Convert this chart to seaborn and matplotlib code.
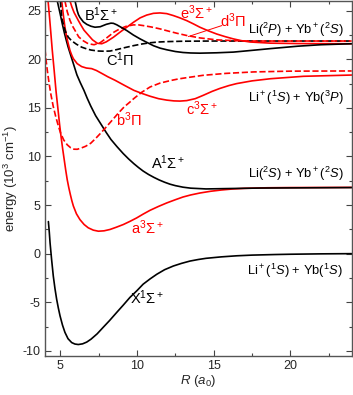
import matplotlib
matplotlib.use('Agg')
import matplotlib.pyplot as plt
import seaborn as sns
import numpy as np
import pandas as pd

# Potential energy curves of (LiYb)+
# R in bohr, energy in 10^3 cm^-1

x_X = [4.22, 4.28, 4.33, 4.43, 4.54, 4.65, 4.76, 4.87, 4.98, 5.14, 5.3, 5.5, 5.74,
       5.95, 6.17, 6.45, 6.72, 7.0, 7.4, 7.8, 8.2, 8.68, 9.1, 9.54, 10.0, 10.4, 10.85,
       11.29, 11.8, 12.37, 12.9, 13.46, 14.0, 14.5, 15.5, 16.5, 17.5, 19.0, 20.0, 22.0, 24.0]
e_X = [3.3, 2.2, 1.1, -0.6, -2.3, -3.6, -4.7, -5.6, -6.4, -7.35, -8.1, -8.75, -9.15,
       -9.3, -9.35, -9.28, -9.1, -8.8, -8.25, -7.57, -6.9, -6.04, -5.3, -4.5, -3.8, -3.14, -2.6,
       -2.12, -1.65, -1.27, -1.0, -0.76, -0.6, -0.48, -0.33, -0.22, -0.15, -0.09, -0.06, -0.02, 0.0]

x_a = [4.2, 4.28, 4.35, 4.47, 4.6, 4.72, 4.85, 4.95, 5.05, 5.15, 5.25, 5.35, 5.45, 5.55,
       5.65, 5.75, 5.85, 6.05, 6.28, 6.55, 6.82, 7.15, 7.48, 7.85, 8.24, 8.65, 9.11, 9.55,
       9.98, 10.4, 10.85, 11.4, 11.94, 12.5, 13.0, 13.5, 14.1, 14.8, 15.5, 16.2, 17.0, 18.5,
       20.0, 24.0]
e_a = [26.0, 24.6, 23.3, 21.0, 18.8, 16.7, 14.8, 13.3, 12.0, 10.8, 9.7, 8.6, 7.6, 6.8,
       6.1, 5.45, 4.9, 4.1, 3.5, 3.0, 2.66, 2.42, 2.31, 2.35, 2.49, 2.72, 3.0, 3.33,
       3.68, 4.07, 4.46, 4.86, 5.22, 5.55, 5.83, 6.04, 6.24, 6.42, 6.55, 6.65, 6.72, 6.78,
       6.8, 6.82]

x_A = [4.8, 4.9, 5.0, 5.12, 5.25, 5.38, 5.5, 5.62, 5.75, 5.9, 6.08, 6.3, 6.54, 6.75,
       6.98, 7.3, 7.7, 8.0, 8.3, 8.7, 9.1, 9.45, 9.8, 10.1, 10.4, 10.75, 11.1, 11.45, 11.8,
       12.15, 12.5, 13.0, 13.5, 14.5, 16.0, 18.0, 24.0]
e_A = [26.0, 25.3, 24.6, 23.7, 22.8, 22.0, 21.3, 20.7, 20.05, 19.3, 18.4, 17.6, 16.8, 16.0,
       15.2, 14.2, 13.2, 12.45, 11.75, 11.0, 10.3, 9.75, 9.25, 8.86, 8.5, 8.15, 7.85, 7.58, 7.35,
       7.15, 7.0, 6.84, 6.74, 6.66, 6.7, 6.75, 6.8]

x_b = [4.0, 4.07, 4.15, 4.26, 4.37, 4.53, 4.7, 4.86, 5.02, 5.22, 5.45, 5.67, 5.89, 6.1,
       6.33, 6.65, 6.98, 7.3, 7.63, 7.96, 8.29, 8.72, 9.16, 9.5, 9.8, 10.3, 10.85, 11.5,
       12.15, 12.7, 13.2, 14.3, 15.8, 17.6, 20.0, 24.0]
e_b = [21.0, 19.9, 18.86, 17.6, 16.5, 15.2, 14.1, 13.2, 12.4, 11.7, 11.2, 10.9, 10.75, 10.74,
       10.85, 11.05, 11.36, 11.85, 12.4, 12.98, 13.57, 14.35, 15.1, 15.55, 15.97, 16.6, 17.15, 17.55,
       17.8, 17.98, 18.1, 18.35, 18.55, 18.7, 18.78, 18.8]

x_c = [5.09, 5.2, 5.3, 5.4, 5.5, 5.63, 5.75, 5.85, 6.1, 6.39, 6.7, 7.04, 7.35, 7.7, 8.1,
       8.57, 9.2, 9.8, 10.3, 10.85, 11.4, 11.94, 12.4, 12.8, 13.24, 13.8, 14.33, 14.9, 15.4,
       16.0, 16.5, 17.5, 18.7, 20.85, 24.0]
e_c = [26.0, 24.5, 23.3, 22.4, 21.7, 20.9, 20.4, 20.06, 19.55, 19.25, 19.1, 19.04, 18.85, 18.55, 18.2,
       17.84, 17.3, 16.8, 16.5, 16.2, 15.95, 15.8, 15.72, 15.7, 15.75, 15.95, 16.3, 16.7, 17.0,
       17.3, 17.5, 17.78, 18.0, 18.25, 18.38]

x_C = [5.0, 5.05, 5.09, 5.2, 5.3, 5.41, 5.52, 5.74, 6.05, 6.39, 6.7, 7.0, 7.48, 7.85, 8.24,
       8.68, 9.2, 9.76, 10.3, 10.85, 11.4, 12.0, 13.0, 15.0, 24.0]
e_C = [26.0, 25.1, 24.3, 23.6, 23.0, 22.6, 22.27, 21.9, 21.55, 21.25, 21.08, 20.95, 20.85, 20.83, 20.85,
       21.0, 21.2, 21.4, 21.57, 21.7, 21.78, 21.82, 21.86, 21.88, 21.88]

x_d = [5.3, 5.45, 5.63, 5.8, 5.96, 6.2, 6.5, 6.82, 7.2, 7.59, 8.02, 8.5, 8.9, 9.3, 9.76,
       10.1, 10.4, 10.95, 11.5, 12.05, 12.6, 13.24, 14.1, 15.2, 16.3, 17.37, 24.0]
e_d = [26.0, 24.9, 24.0, 23.4, 22.96, 22.3, 21.9, 21.6, 21.5, 21.7, 22.2, 22.8, 23.15, 23.4, 23.54,
       23.54, 23.47, 23.32, 23.13, 22.9, 22.68, 22.45, 22.2, 22.0, 21.92, 21.88, 21.88]

x_e = [5.63, 5.75, 5.9, 6.17, 6.35, 6.54, 6.82, 7.1, 7.41, 7.7, 8.0, 8.46, 8.9, 9.33, 9.76,
       10.2, 10.63, 11.07, 11.5, 11.94, 12.37, 12.8, 13.24, 13.67, 14.1, 14.65, 15.2, 15.75,
       16.28, 16.8, 17.37, 18.7, 20.5, 24.0]
e_e = [26.0, 25.4, 24.8, 24.0, 23.5, 23.0, 22.5, 22.0, 21.65, 21.6, 21.8, 22.27, 22.8, 23.3, 23.8,
       24.26, 24.55, 24.73, 24.77, 24.7, 24.5, 24.26, 23.98, 23.65, 23.3, 22.93, 22.6, 22.33,
       22.1, 21.92, 21.78, 21.66, 21.62, 21.6]

x_B = [5.96, 6.03, 6.1, 6.18, 6.28, 6.5, 6.72, 7.0, 7.26, 7.6, 8.0, 8.3, 8.46, 8.68, 8.9,
       9.33, 9.76, 10.2, 10.63, 11.07, 11.5, 11.94, 12.5, 13.0, 13.5, 14.1, 15.2, 16.28, 17.37,
       18.7, 20.5, 22.0, 24.0]
e_B = [26.0, 25.5, 25.0, 24.6, 24.3, 23.85, 23.6, 23.4, 23.3, 23.35, 23.6, 23.72, 23.7, 23.55, 23.35,
       22.96, 22.5, 22.1, 21.75, 21.4, 21.15, 20.98, 20.8, 20.7, 20.65, 20.63, 20.67, 20.74, 20.9,
       21.1, 21.35, 21.5, 21.6]

RED = '#ff0000'
curves = [
    ('X', x_X, e_X, 'black', '-'),
    ('a', x_a, e_a, RED, '-'),
    ('A', x_A, e_A, 'black', '-'),
    ('b', x_b, e_b, RED, '--'),
    ('c', x_c, e_c, RED, '-'),
    ('C', x_C, e_C, 'black', '--'),
    ('d', x_d, e_d, RED, '--'),
    ('e', x_e, e_e, RED, '-'),
    ('B', x_B, e_B, 'black', '-'),
]

sns.set_style('ticks')
plt.rcParams['font.family'] = ['Liberation Sans', 'DejaVu Sans']
plt.rcParams['mathtext.fontset'] = 'custom'
plt.rcParams['mathtext.rm'] = 'Liberation Sans'
plt.rcParams['mathtext.it'] = 'Liberation Sans:italic'
plt.rcParams['mathtext.bf'] = 'Liberation Sans:bold'
plt.rcParams['axes.unicode_minus'] = False

fig = plt.figure(figsize=(3.53, 3.95), dpi=100)
ax = fig.add_axes([0.1275, 0.0995, 0.8688, 0.898])

for name, xs, es, col, ls in curves:
    df = pd.DataFrame({'R': xs, 'E': es})
    sns.lineplot(data=df, x='R', y='E', ax=ax, color=col, linestyle=ls,
                 linewidth=1.2, estimator=None, sort=False)

ax.set_xlim(4, 24)
ax.set_ylim(-10.5, 26)
ax.set_xticks([5, 10, 15, 20])
ax.set_yticks([-10, -5, 0, 5, 10, 15, 20, 25])
ax.set_xticks(np.arange(5, 24, 2.5), minor=True)
ax.set_yticks(np.arange(-10, 26, 2.5), minor=True)
ax.tick_params(which='both', direction='in', top=True, right=True,
               color='#444444', width=0.8, labelsize=9, pad=3)
ax.tick_params(which='major', length=4)
ax.tick_params(which='minor', length=2.5)
for sp in ax.spines.values():
    sp.set_color('#555555')
    sp.set_linewidth(1.0)

ax.set_xlabel(r'$R$ ($a_0$)', fontsize=9.5, labelpad=1)
ax.set_ylabel(r'energy (10$^3$ cm$^{-1}$)', fontsize=9.5, labelpad=2)

# state labels
st = dict(fontsize=10.5, ha='center', va='center')
ax.text(7.64, 24.6, r'B$^1\Sigma^+$', color='black', **st)
ax.text(8.89, 20.0, r'C$^1\Pi$', color='black', **st)
ax.text(13.84, 24.8, r'e$^3\Sigma^+$', color=RED, **st)
ax.text(16.23, 24.0, r'd$^3\Pi$', color=RED, **st)
ax.text(14.24, 14.9, r'c$^3\Sigma^+$', color=RED, **st)
ax.text(9.49, 13.75, r'b$^3\Pi$', color=RED, **st)
ax.text(12.04, 9.4, r'A$^1\Sigma^+$', color='black', **st)
ax.text(10.69, 2.66, r'a$^3\Sigma^+$', color=RED, **st)
ax.text(10.69, -4.55, r'X$^1\Sigma^+$', color='black', **st)
ax.plot([15.53, 13.35], [23.47, 22.34], color=RED, linewidth=0.7)

# asymptote labels
asy = dict(fontsize=9.3, ha='right', va='center', color='black')
ax.text(23.45, 23.05, r'Li($^2P$) + Yb$^+$($^2S$)', **asy)
ax.text(23.45, 16.05, r'Li$^+$($^1S$) + Yb($^3P$)', **asy)
ax.text(23.45, 8.2, r'Li($^2S$) + Yb$^+$($^2S$)', **asy)
ax.text(23.4, -1.76, r'Li$^+$($^1S$) + Yb($^1S$)', **asy)

fig.savefig('out.png', dpi=100)
